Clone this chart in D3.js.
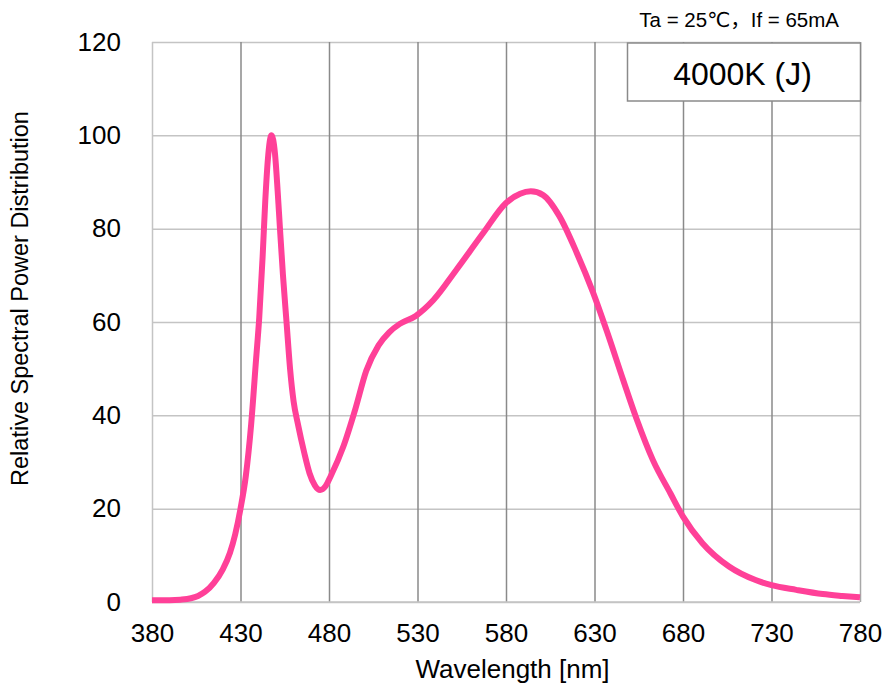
<!DOCTYPE html>
<html>
<head>
<meta charset="utf-8">
<script src="https://cdn.jsdelivr.net/npm/d3@7"></script>
<style>
  body { margin: 0; background: #fff; }
  svg { font-family: "Liberation Sans", Arial, "DejaVu Sans", "Noto Sans CJK JP", sans-serif; }
</style>
</head>
<body>
<div id="chart"></div>
<script>
// spectrum (nm, relative power)
const wavelengths = [380, 390, 396, 402, 406, 410, 415, 420, 424, 427, 430, 433, 436, 438.8, 440.6, 442.5, 444, 445.5, 447.5, 449.5, 451, 452.3, 454, 456, 458, 460, 462.5, 466, 469, 472, 475, 478, 481, 488, 495, 501, 508, 514, 520, 529, 539, 552, 567, 580, 588, 594, 601, 610, 620, 629, 637, 646, 654, 663, 673, 680, 691, 706, 721, 730, 744, 759, 770, 780];
const power = [0.4, 0.4, 0.5, 0.8, 1.3, 2.2, 4.1, 7.0, 10.5, 14.5, 20, 27, 38, 52, 61, 74, 86, 95, 100, 96, 88, 80, 70, 60, 50, 43, 38, 32, 27.6, 25, 24, 24.8, 27, 33.2, 41.5, 49.5, 55, 57.8, 59.6, 61.3, 64.7, 71.2, 79, 85.5, 87.5, 88, 87.2, 82.8, 74.8, 66.5, 58, 47.8, 39, 30.4, 23.2, 18.3, 12.6, 7.6, 4.7, 3.6, 2.6, 1.7, 1.3, 1.0];

const xTicks = [380, 430, 480, 530, 580, 630, 680, 730, 780];
const yTicks = [0, 20, 40, 60, 80, 100, 120];

const conditionText = "Ta = 25\u2103\uff0cIf = 65mA";
const legendText = "4000K (J)";

const width = 884, height = 685;
const margin = {t:42, r:24, b:83, l:152};
const w = width - margin.l - margin.r;
const h = height - margin.t - margin.b;

const svg = d3.select('#chart').append('svg')
  .attr('width', width)
  .attr('height', height);

const plot = svg.append('g')
  .attr('transform', `translate(${margin.l},${margin.t})`);

const scaleX = d3.scaleLinear().domain([380, 780]).range([0, w]);
const scaleY = d3.scaleLinear().domain([0, 120]).range([h, 0]);

// horizontal grid (light)
const axisY = d3.axisLeft(scaleY)
  .tickValues(yTicks)
  .tickSize(-w)
  .tickPadding(31);

const gy = plot.append('g').attr('class', 'axis-y').call(axisY);
gy.select('.domain').remove();
gy.selectAll('line').attr('stroke', '#c4c4c4').attr('stroke-width', 1.5);
gy.selectAll('text')
  .attr('font-size', 26)
  .attr('fill', '#000');

// vertical grid (darker)
const axisX = d3.axisBottom(scaleX)
  .tickValues(xTicks)
  .tickSize(-h)
  .tickPadding(22);

const gx = plot.append('g').attr('class', 'axis-x')
  .attr('transform', `translate(0,${h})`)
  .call(axisX);
gx.select('.domain').remove();
gx.selectAll('line')
  .attr('stroke', d => (d === 380 ? '#c4c4c4' : d === 780 ? '#a8a8a8' : '#8a8a8a'))
  .attr('stroke-width', 1.5);
gx.selectAll('text')
  .attr('font-size', 26)
  .attr('fill', '#000');

// bottom border
plot.append('line')
  .attr('x1', 0).attr('x2', w).attr('y1', h).attr('y2', h)
  .attr('stroke', '#c4c4c4').attr('stroke-width', 1.5);

// curve
const line = d3.line()
  .x((d, i) => scaleX(wavelengths[i]))
  .y(d => scaleY(d))
  .curve(d3.curveMonotoneX);

plot.append('path')
  .datum(power)
  .attr('d', line)
  .attr('fill', 'none')
  .attr('stroke', '#ff4098')
  .attr('stroke-width', 6)
  .attr('stroke-linejoin', 'round')
  .attr('stroke-linecap', 'butt');

// legend box
const box = svg.append('g');
box.append('rect')
  .attr('x', 627.5).attr('y', 43)
  .attr('width', 233).attr('height', 58)
  .attr('fill', '#fff')
  .attr('stroke', '#8a8a8a')
  .attr('stroke-width', 1.5);
box.append('text')
  .attr('x', 742.5).attr('y', 85)
  .attr('text-anchor', 'middle')
  .attr('font-size', 32)
  .text(legendText);

// condition text
svg.append('text')
  .attr('x', 839).attr('y', 27)
  .attr('text-anchor', 'end')
  .attr('font-size', 20.5)
  .text(conditionText);

// axis titles
svg.append('text')
  .attr('x', 512.5).attr('y', 678)
  .attr('text-anchor', 'middle')
  .attr('font-size', 26)
  .text('Wavelength [nm]');

svg.append('text')
  .attr('transform', 'translate(28,298.5) rotate(-90)')
  .attr('text-anchor', 'middle')
  .attr('font-size', 23.5)
  .text('Relative Spectral Power Distribution');
</script>
</body>
</html>
